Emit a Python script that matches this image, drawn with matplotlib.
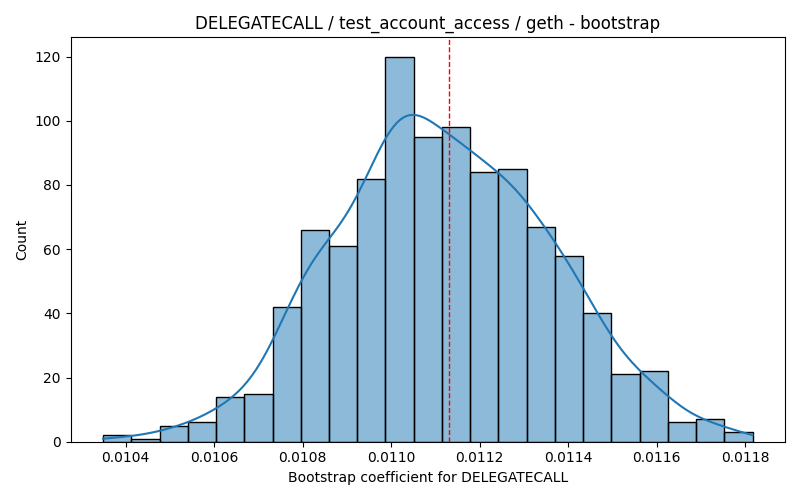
import numpy as np
import pandas as pd
import matplotlib
matplotlib.use('Agg')
import matplotlib.pyplot as plt
import seaborn as sns

# bin counts (1000 bootstrap samples)
counts = [2, 1, 5, 6, 14, 15, 42, 66, 61, 82, 120, 95, 98, 84, 85, 67, 58, 40, 21, 22, 6, 7, 3]
x_min = 0.0103494
x_max = 0.0118165
estimate = 0.0111305

edges = np.linspace(x_min, x_max, len(counts) + 1)
centers = (edges[:-1] + edges[1:]) / 2
df = pd.DataFrame({'coef': centers, 'n': counts})

# weighted kde uses the effective sample size, so shrink the bandwidth
# back to what 1000 raw samples would give
w = np.array(counts, dtype=float)
n_eff = w.sum() ** 2 / (w ** 2).sum()
bw = (w.sum() / n_eff) ** (-0.2)

fig, ax = plt.subplots(figsize=(8, 5), dpi=100)
sns.histplot(data=df, x='coef', weights='n', bins=list(edges), kde=True,
             kde_kws={'bw_adjust': bw, 'cut': 3, 'clip': (x_min, x_max)}, ax=ax)
ax.axvline(estimate, color='red', linestyle='--', linewidth=1)

pad = 0.05 * (x_max - x_min)
ax.set_xlim(x_min - pad, x_max + pad)

ax.set_title('DELEGATECALL / test_account_access / geth - bootstrap')
ax.set_xlabel('Bootstrap coefficient for DELEGATECALL')
ax.set_ylabel('Count')

plt.tight_layout()
plt.savefig('out.png')
